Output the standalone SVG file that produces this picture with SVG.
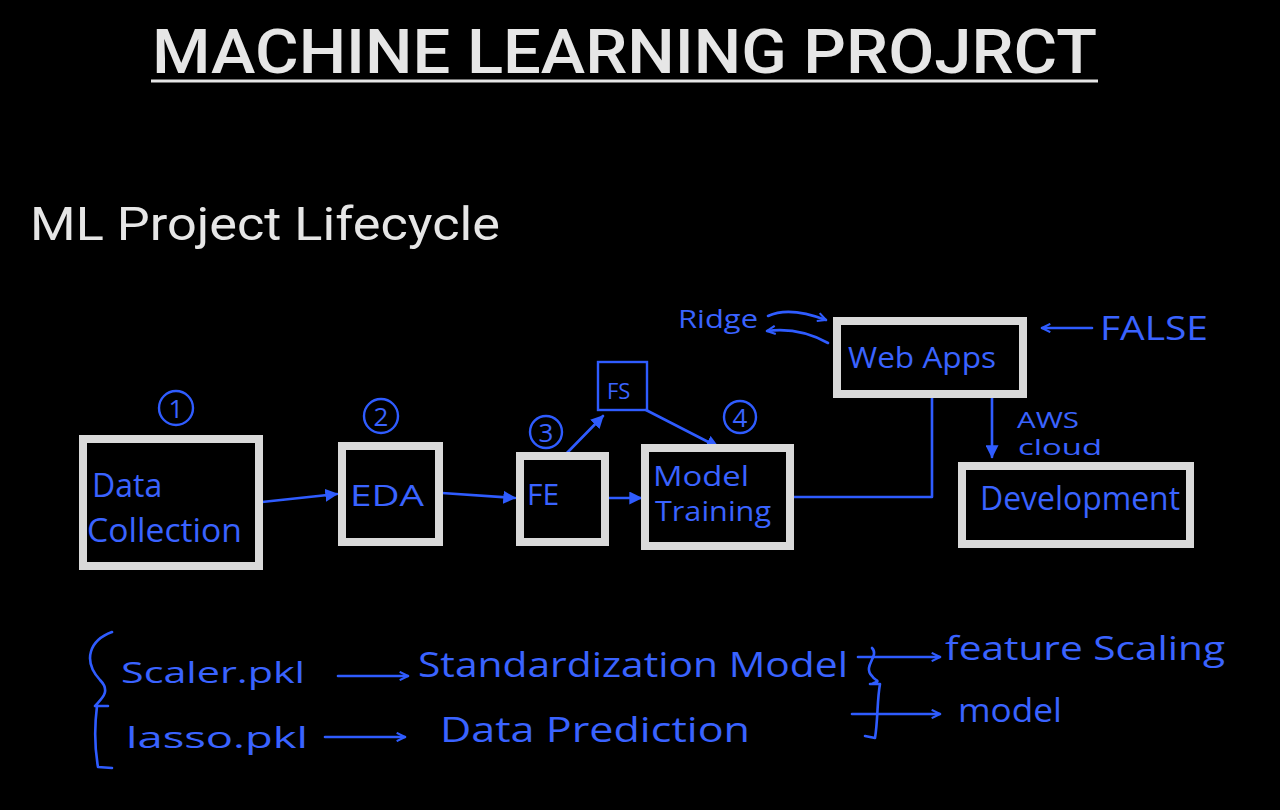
<svg xmlns="http://www.w3.org/2000/svg" width="1280" height="810" viewBox="0 0 1280 810">
<style>
.box{fill:#000;stroke:#d9d9d9;stroke-width:8}
.hw{fill:#3a63ff;font-family:"Open Sans","Liberation Sans",sans-serif;}
.ln{fill:none;stroke:#2f5cff;stroke-width:2.6;stroke-linecap:round;stroke-linejoin:round}
.cir{fill:none;stroke:#2f5cff;stroke-width:2.4}
.wt{fill:#e6e6e6;font-family:"Roboto","Liberation Sans",sans-serif}
</style>
<defs>
<marker id="ah" viewBox="0 0 10 10" refX="9" refY="5" markerWidth="5" markerHeight="5" orient="auto" markerUnits="strokeWidth">
<path d="M0,0 L10,5 L0,10 z" fill="#2f5cff"/>
</marker>
<marker id="oa" viewBox="0 0 10 10" refX="9" refY="5" markerWidth="4" markerHeight="4" orient="auto" markerUnits="strokeWidth">
<path d="M1,1 L9,5 L1,9" fill="none" stroke="#2f5cff" stroke-width="2"/>
</marker>
</defs>
<rect width="1280" height="810" fill="#000"/>
<g id="title">
<text class="wt" x="152" y="73" font-size="62" font-weight="500" textLength="945" lengthAdjust="spacingAndGlyphs">MACHINE LEARNING PROJRCT</text>
<line x1="151" y1="81" x2="1098" y2="81" stroke="#e6e6e6" stroke-width="3"/>
</g>
<g id="subtitle">
<text class="wt" x="30" y="240" font-size="46" textLength="470" lengthAdjust="spacingAndGlyphs">ML Project Lifecycle</text>
</g>
<g id="connectors">
<line class="ln" x1="262" y1="502" x2="337" y2="494" marker-end="url(#ah)"/>
<line class="ln" x1="442" y1="493" x2="515" y2="498" marker-end="url(#ah)"/>
<line class="ln" x1="607" y1="498" x2="641" y2="498" marker-end="url(#ah)"/>
<line class="ln" x1="564" y1="456" x2="603" y2="416" marker-end="url(#ah)"/>
<line class="ln" x1="646" y1="410" x2="718" y2="447" marker-end="url(#ah)"/>
<polyline class="ln" points="792,497 932,497 932,395"/>
<line class="ln" x1="992" y1="398" x2="992" y2="457" marker-end="url(#ah)"/>
<line class="ln" x1="1092" y1="328" x2="1042" y2="328" marker-end="url(#oa)"/>
<path class="ln" d="M768,316 C785,308 805,312 826,320" marker-end="url(#oa)"/>
<path class="ln" d="M828,343 C810,333 790,328 767,331" marker-end="url(#oa)"/>
</g>
<g id="n1">
<circle class="cir" cx="176" cy="408" r="17"/>
<text class="hw" x="176" y="418" font-size="26" text-anchor="middle">1</text>
<rect class="box" x="83" y="439" width="176" height="127"/>
<text class="hw" x="92" y="497" font-size="32">Data</text>
<text class="hw" x="87" y="542" font-size="32" textLength="155" lengthAdjust="spacingAndGlyphs">Collection</text>
</g>
<g id="n2">
<circle class="cir" cx="381" cy="416" r="17"/>
<text class="hw" x="381" y="426" font-size="26" text-anchor="middle">2</text>
<rect class="box" x="342" y="446" width="97" height="96"/>
<text class="hw" x="350" y="506" font-size="30" textLength="74" lengthAdjust="spacingAndGlyphs">EDA</text>
</g>
<g id="n3">
<circle class="cir" cx="546" cy="432" r="16"/>
<text class="hw" x="546" y="442" font-size="26" text-anchor="middle">3</text>
<rect class="box" x="520" y="456" width="85" height="86"/>
<text class="hw" x="527" y="505" font-size="30">FE</text>
</g>
<g id="fs">
<rect x="598" y="362" width="49" height="48" fill="none" stroke="#2f5cff" stroke-width="2.4"/>
<text class="hw" x="607" y="399" font-size="22">FS</text>
</g>
<g id="n4">
<circle class="cir" cx="740" cy="417" r="16"/>
<text class="hw" x="740" y="427" font-size="26" text-anchor="middle">4</text>
<rect class="box" x="645" y="448" width="145" height="98"/>
<text class="hw" x="653" y="486" font-size="28" textLength="96" lengthAdjust="spacingAndGlyphs">Model</text>
<text class="hw" x="655" y="521" font-size="28" textLength="116" lengthAdjust="spacingAndGlyphs">Training</text>
</g>
<g id="webapps">
<rect class="box" x="837" y="321" width="186" height="73"/>
<text class="hw" x="848" y="368" font-size="30" textLength="148" lengthAdjust="spacingAndGlyphs">Web Apps</text>
</g>
<g id="development">
<rect class="box" x="962" y="466" width="228" height="78"/>
<text class="hw" x="980" y="510" font-size="32" textLength="200" lengthAdjust="spacingAndGlyphs">Development</text>
</g>
<g id="labels">
<text class="hw" x="678" y="328" font-size="26" textLength="80" lengthAdjust="spacingAndGlyphs">Ridge</text>
<text class="hw" x="1100" y="340" font-size="32" textLength="108" lengthAdjust="spacingAndGlyphs">FALSE</text>
<text class="hw" x="1017" y="428" font-size="21" textLength="62" lengthAdjust="spacingAndGlyphs">AWS</text>
<text class="hw" x="1018" y="455" font-size="21" textLength="84" lengthAdjust="spacingAndGlyphs">cloud</text>
</g>
<g id="notes">
<path class="ln" d="M112,632 C90,640 82,660 100,680 C112,692 100,700 95,706 M108,706 L97,706 C94,730 95,750 98,767 L112,768"/>
<text class="hw" x="121" y="683" font-size="30" textLength="184" lengthAdjust="spacingAndGlyphs">Scaler.pkl</text>
<line class="ln" x1="338" y1="676" x2="408" y2="676" marker-end="url(#oa)"/>
<text class="hw" x="418" y="677" font-size="34" textLength="430" lengthAdjust="spacingAndGlyphs">Standardization Model</text>
<text class="hw" x="126" y="748" font-size="30" textLength="182" lengthAdjust="spacingAndGlyphs">lasso.pkl</text>
<line class="ln" x1="325" y1="737" x2="405" y2="737" marker-end="url(#oa)"/>
<text class="hw" x="440" y="742" font-size="34" textLength="310" lengthAdjust="spacingAndGlyphs">Data Prediction</text>
<line class="ln" x1="858" y1="657" x2="940" y2="657" marker-end="url(#oa)"/>
<path class="ln" d="M872,648 C880,656 862,666 872,676 C876,682 882,680 872,684 M870,684 L880,684 C877,700 878,720 875,738 L865,736"/>
<line class="ln" x1="852" y1="714" x2="940" y2="714" marker-end="url(#oa)"/>
<text class="hw" x="945" y="660" font-size="32" textLength="280" lengthAdjust="spacingAndGlyphs">feature Scaling</text>
<text class="hw" x="958" y="722" font-size="32" textLength="104" lengthAdjust="spacingAndGlyphs">model</text>
</g>
</svg>
